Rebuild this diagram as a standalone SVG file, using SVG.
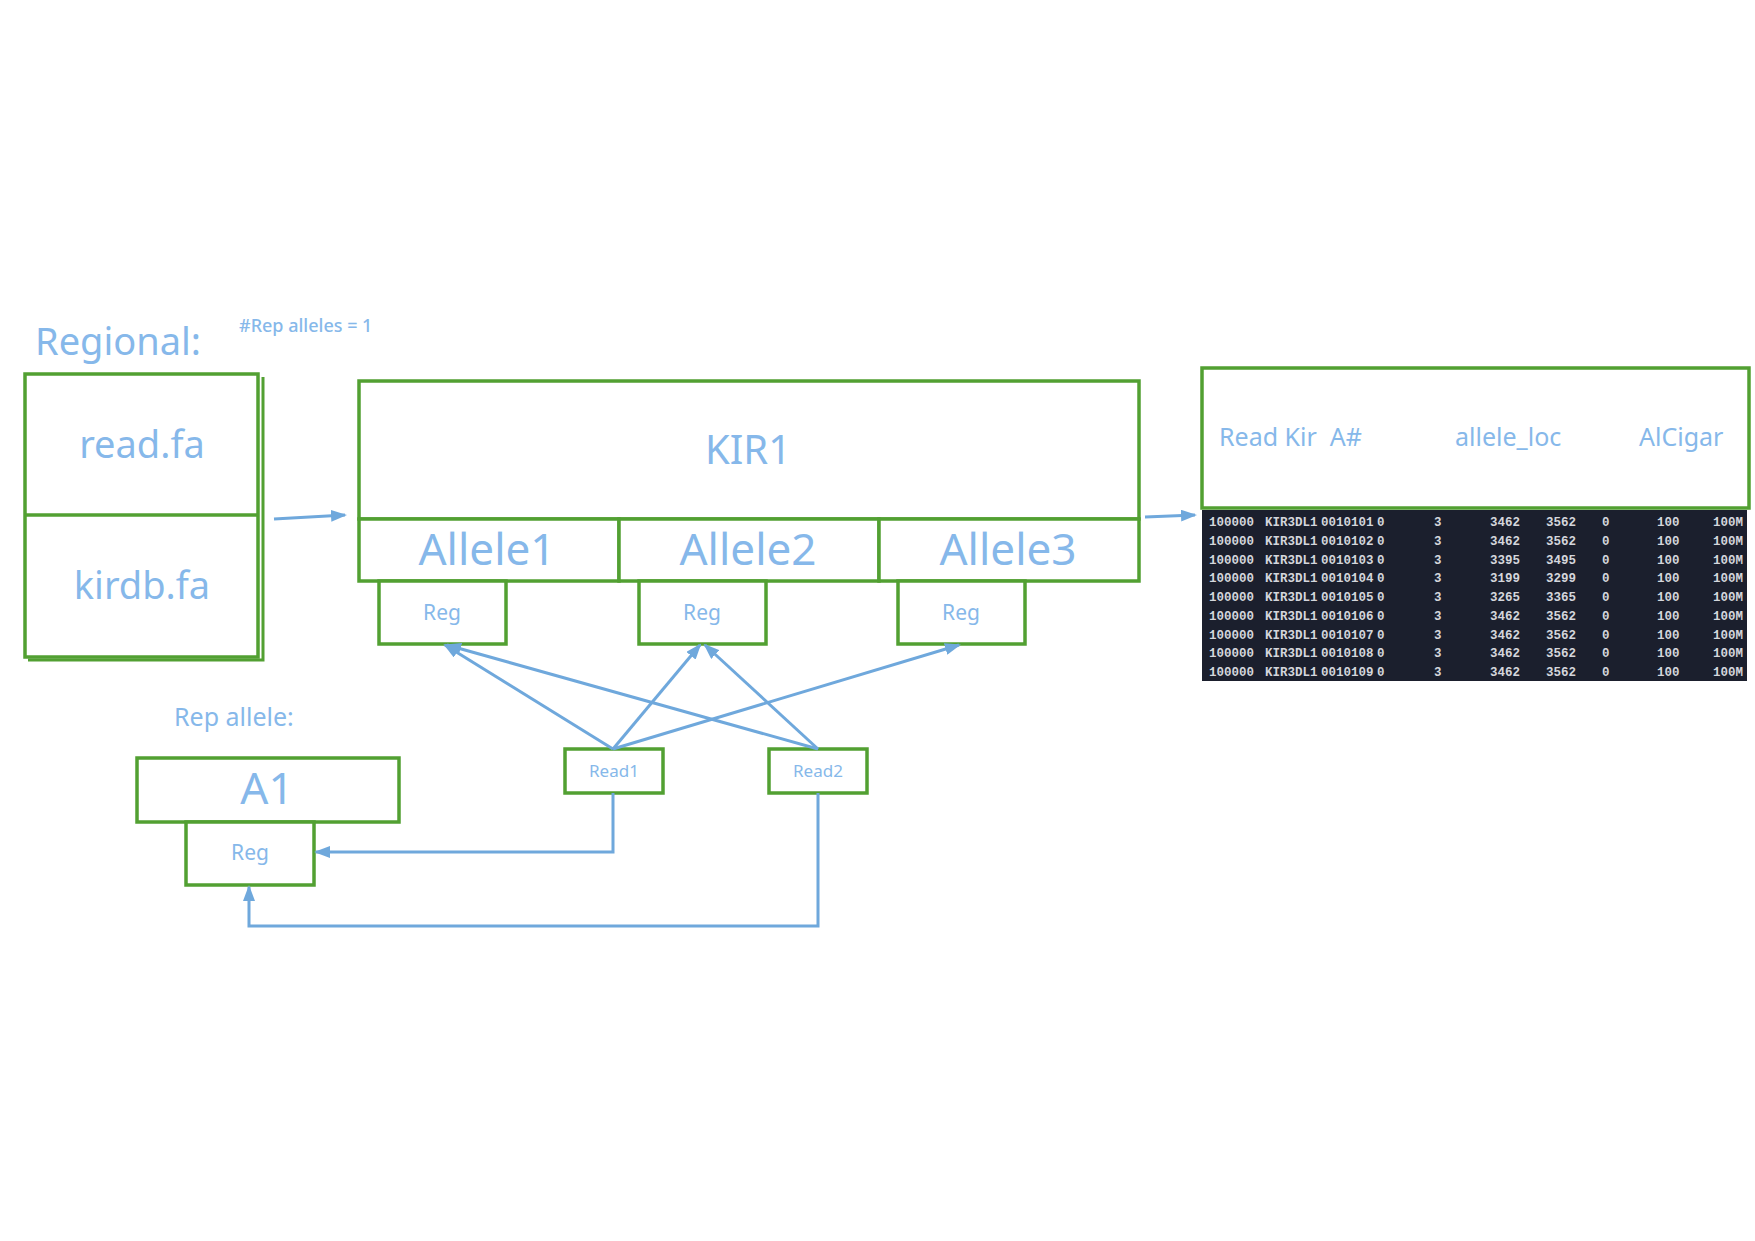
<svg xmlns="http://www.w3.org/2000/svg" width="1755" height="1241" viewBox="0 0 1755 1241">
<style>
.box{fill:#ffffff;stroke:#52a032;stroke-width:3.5}
.t{font-family:"Noto Sans","Liberation Sans",sans-serif;fill:#86b8ea;text-anchor:middle}
.tl{font-family:"Noto Sans","Liberation Sans",sans-serif;fill:#86b8ea}
.c{fill:none;stroke:#6fa8dc;stroke-width:3}
.m{font-family:"Liberation Mono","DejaVu Sans Mono",monospace;font-size:12.5px;font-weight:bold;fill:#d4d6dc}
</style>
<defs>
<marker id="ah" markerUnits="userSpaceOnUse" markerWidth="16" markerHeight="12" refX="14" refY="6" orient="auto">
<path d="M0,0 L16,6 L0,12 z" fill="#6fa8dc"/>
</marker>
</defs>
<rect width="1755" height="1241" fill="#ffffff"/>

<text class="tl" x="35" y="355" font-size="38">Regional:</text>
<text class="tl" x="239" y="332" font-size="18" font-weight="500">#Rep alleles = 1</text>
<text class="tl" x="174" y="726" font-size="25">Rep allele:</text>

<g id="input">
<rect class="box" x="25" y="374" width="233" height="283"/>
<path d="M263,377 V660 H28" fill="none" stroke="#52a032" stroke-width="3"/>
<line x1="25" y1="515" x2="258" y2="515" stroke="#52a032" stroke-width="3.5"/>
<text class="t" x="142" y="458" font-size="38">read.fa</text>
<text class="t" x="142" y="599" font-size="38">kirdb.fa</text>
</g>

<g id="kir1">
<rect class="box" x="359" y="381" width="780" height="138"/>
<text class="t" x="748" y="464" font-size="40">KIR1</text>
</g>
<g id="allele1">
<rect class="box" x="359" y="519" width="260" height="62"/>
<text class="t" x="487" y="565" font-size="44">Allele1</text>
</g>
<g id="allele2">
<rect class="box" x="619" y="519" width="260" height="62"/>
<text class="t" x="748" y="565" font-size="44">Allele2</text>
</g>
<g id="allele3">
<rect class="box" x="879" y="519" width="260" height="62"/>
<text class="t" x="1008" y="565" font-size="44">Allele3</text>
</g>
<g id="reg1">
<rect class="box" x="379" y="581" width="127" height="63"/>
<text class="t" x="442" y="620" font-size="21">Reg</text>
</g>
<g id="reg2">
<rect class="box" x="639" y="581" width="127" height="63"/>
<text class="t" x="702" y="620" font-size="21">Reg</text>
</g>
<g id="reg3">
<rect class="box" x="898" y="581" width="127" height="63"/>
<text class="t" x="961" y="620" font-size="21">Reg</text>
</g>

<g id="read1">
<rect class="box" x="565" y="749" width="98" height="44"/>
<text class="t" x="614" y="777" font-size="17">Read1</text>
</g>
<g id="read2">
<rect class="box" x="769" y="749" width="98" height="44"/>
<text class="t" x="818" y="777" font-size="17">Read2</text>
</g>

<g id="a1">
<rect class="box" x="137" y="758" width="262" height="64"/>
<text class="t" x="267" y="804" font-size="44">A1</text>
</g>
<g id="a1reg">
<rect class="box" x="186" y="822" width="128" height="63"/>
<text class="t" x="250" y="860" font-size="21">Reg</text>
</g>

<g id="table">
<rect class="box" x="1202" y="368" width="547" height="140"/>
<text class="tl" x="1219" y="446" font-size="25" xml:space="preserve">Read Kir  A#</text>
<text class="tl" x="1455" y="446" font-size="25">allele_loc</text>
<text class="tl" x="1639" y="446" font-size="25">AlCigar</text>
<rect x="1202" y="510" width="545" height="171" fill="#1b1f2d"/>
<g class="m">
<text x="1209" y="526">100000</text><text x="1265" y="526">KIR3DL1</text><text x="1321" y="526">0010101</text><text x="1377" y="526">0</text><text x="1434" y="526">3</text><text x="1490" y="526">3462</text><text x="1546" y="526">3562</text><text x="1602" y="526">0</text><text x="1657" y="526">100</text><text x="1713" y="526">100M</text>
<text x="1209" y="545">100000</text><text x="1265" y="545">KIR3DL1</text><text x="1321" y="545">0010102</text><text x="1377" y="545">0</text><text x="1434" y="545">3</text><text x="1490" y="545">3462</text><text x="1546" y="545">3562</text><text x="1602" y="545">0</text><text x="1657" y="545">100</text><text x="1713" y="545">100M</text>
<text x="1209" y="564">100000</text><text x="1265" y="564">KIR3DL1</text><text x="1321" y="564">0010103</text><text x="1377" y="564">0</text><text x="1434" y="564">3</text><text x="1490" y="564">3395</text><text x="1546" y="564">3495</text><text x="1602" y="564">0</text><text x="1657" y="564">100</text><text x="1713" y="564">100M</text>
<text x="1209" y="582">100000</text><text x="1265" y="582">KIR3DL1</text><text x="1321" y="582">0010104</text><text x="1377" y="582">0</text><text x="1434" y="582">3</text><text x="1490" y="582">3199</text><text x="1546" y="582">3299</text><text x="1602" y="582">0</text><text x="1657" y="582">100</text><text x="1713" y="582">100M</text>
<text x="1209" y="601">100000</text><text x="1265" y="601">KIR3DL1</text><text x="1321" y="601">0010105</text><text x="1377" y="601">0</text><text x="1434" y="601">3</text><text x="1490" y="601">3265</text><text x="1546" y="601">3365</text><text x="1602" y="601">0</text><text x="1657" y="601">100</text><text x="1713" y="601">100M</text>
<text x="1209" y="620">100000</text><text x="1265" y="620">KIR3DL1</text><text x="1321" y="620">0010106</text><text x="1377" y="620">0</text><text x="1434" y="620">3</text><text x="1490" y="620">3462</text><text x="1546" y="620">3562</text><text x="1602" y="620">0</text><text x="1657" y="620">100</text><text x="1713" y="620">100M</text>
<text x="1209" y="639">100000</text><text x="1265" y="639">KIR3DL1</text><text x="1321" y="639">0010107</text><text x="1377" y="639">0</text><text x="1434" y="639">3</text><text x="1490" y="639">3462</text><text x="1546" y="639">3562</text><text x="1602" y="639">0</text><text x="1657" y="639">100</text><text x="1713" y="639">100M</text>
<text x="1209" y="657">100000</text><text x="1265" y="657">KIR3DL1</text><text x="1321" y="657">0010108</text><text x="1377" y="657">0</text><text x="1434" y="657">3</text><text x="1490" y="657">3462</text><text x="1546" y="657">3562</text><text x="1602" y="657">0</text><text x="1657" y="657">100</text><text x="1713" y="657">100M</text>
<text x="1209" y="676">100000</text><text x="1265" y="676">KIR3DL1</text><text x="1321" y="676">0010109</text><text x="1377" y="676">0</text><text x="1434" y="676">3</text><text x="1490" y="676">3462</text><text x="1546" y="676">3562</text><text x="1602" y="676">0</text><text x="1657" y="676">100</text><text x="1713" y="676">100M</text>
</g>
</g>

<g id="connectors">
<line class="c" x1="274" y1="519" x2="345" y2="515" marker-end="url(#ah)"/>
<line class="c" x1="1145" y1="517" x2="1195" y2="515" marker-end="url(#ah)"/>
<line class="c" x1="613" y1="749" x2="445" y2="645" marker-end="url(#ah)"/>
<line class="c" x1="613" y1="749" x2="700" y2="645" marker-end="url(#ah)"/>
<line class="c" x1="613" y1="749" x2="959" y2="645" marker-end="url(#ah)"/>
<line class="c" x1="818" y1="749" x2="447" y2="645" marker-end="url(#ah)"/>
<line class="c" x1="818" y1="749" x2="705" y2="645" marker-end="url(#ah)"/>
<polyline class="c" points="613,793 613,852 316,852" marker-end="url(#ah)"/>
<polyline class="c" points="818,793 818,926 249,926 249,887" marker-end="url(#ah)"/>
</g>
</svg>
